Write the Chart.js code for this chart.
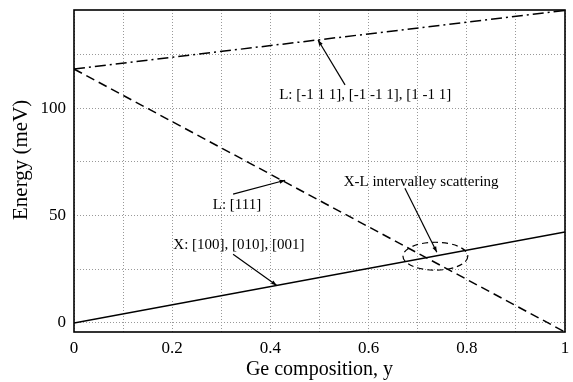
<!DOCTYPE html>
<html>
<head>
<meta charset="utf-8">
<script src="https://cdn.jsdelivr.net/npm/chart.js@4/dist/chart.umd.min.js"></script>
<style>
html,body{margin:0;padding:0;background:#fff;}
#wrap{width:573px;height:382px;}
</style>
</head>
<body>
<div id="wrap"><canvas id="c" width="573" height="382"></canvas></div>
<script>
// ---- data ----
const composition = [0, 1];
const xValley = [0, 42.4];
const l111Valley = [118.3, -4.2];
const lOtherValley = [118.3, 145.6];
const xTicks = [0, 0.1, 0.2, 0.3, 0.4, 0.5, 0.6, 0.7, 0.8, 0.9, 1];
const xTickLabels = ['0', '', '0.2', '', '0.4', '', '0.6', '', '0.8', '', '1'];
const yTicks = [0, 25, 50, 75, 100, 125];
const yTickLabels = ['0', '', '50', '', '100', ''];
const seriesNames = ['X: [100], [010], [001]', 'L: [111]', 'L: [-1 1 1], [-1 -1 1], [1 -1 1]'];
const yTitle = 'Energy (meV)';

// annotations in data units
const labels = [
  {text: 'L: [-1 1 1], [-1 -1 1], [1 -1 1]', x: 0.593, y: 106.2, from: [0.552, 110.9], to: [0.497, 131.8]},
  {text: 'L: [111]', x: 0.332, y: 54.9, from: [0.324, 60.0], to: [0.43, 66.5]},
  {text: 'X: [100], [010], [001]', x: 0.336, y: 36.2, from: [0.324, 32.0], to: [0.413, 17.5]},
  {text: 'X-L intervalley scattering', x: 0.707, y: 65.6, from: [0.674, 62.8], to: [0.739, 33.0]}
];
const ellipse = {x: 0.736, y: 31.1, rx: 0.066, ry: 6.5};

function pts(ys){ return composition.map((x,i)=>({x:x, y:ys[i]})); }

const serif = '"Liberation Serif", "DejaVu Serif", serif';

const annot = {
  id: 'annot',
  afterDatasetsDraw(chart){
    const {ctx, scales:{x, y}, chartArea:a} = chart;
    ctx.save();
    // ellipse
    ctx.strokeStyle = '#000';
    ctx.lineWidth = 1.2;
    ctx.setLineDash([6,4]);
    ctx.beginPath();
    ctx.ellipse(x.getPixelForValue(ellipse.x), y.getPixelForValue(ellipse.y),
      Math.abs(x.getPixelForValue(ellipse.x+ellipse.rx)-x.getPixelForValue(ellipse.x)),
      Math.abs(y.getPixelForValue(ellipse.y+ellipse.ry)-y.getPixelForValue(ellipse.y)), 0, 0, Math.PI*2);
    ctx.stroke();
    ctx.setLineDash([]);
    // labels + arrows
    ctx.font = '15px ' + serif;
    ctx.fillStyle = '#000';
    ctx.textAlign = 'center';
    ctx.textBaseline = 'middle';
    labels.forEach(l=>{
      ctx.fillText(l.text, x.getPixelForValue(l.x), y.getPixelForValue(l.y));
      const x1 = x.getPixelForValue(l.from[0]), y1 = y.getPixelForValue(l.from[1]);
      const x2 = x.getPixelForValue(l.to[0]), y2 = y.getPixelForValue(l.to[1]);
      ctx.lineWidth = 1.2;
      ctx.beginPath(); ctx.moveTo(x1,y1); ctx.lineTo(x2,y2); ctx.stroke();
      const ang = Math.atan2(y2-y1, x2-x1), L = 6, w = 0.35;
      ctx.beginPath();
      ctx.moveTo(x2,y2);
      ctx.lineTo(x2 - L*Math.cos(ang-w), y2 - L*Math.sin(ang-w));
      ctx.lineTo(x2 - L*Math.cos(ang+w), y2 - L*Math.sin(ang+w));
      ctx.closePath(); ctx.fill();
    });
    // frame
    ctx.lineWidth = 1.6;
    ctx.strokeStyle = '#000';
    ctx.strokeRect(a.left, a.top, a.right-a.left, a.bottom-a.top);
    // y axis title
    ctx.save();
    ctx.translate(a.left - 53, y.getPixelForValue(76));
    ctx.rotate(-Math.PI/2);
    ctx.font = '21px ' + serif;
    ctx.fillText(yTitle, 0, 0);
    ctx.restore();
    ctx.restore();
  }
};

new Chart(document.getElementById('c'), {
  type: 'scatter',
  data: {
    datasets: [
      {label: seriesNames[0], data: pts(xValley), showLine: true, borderColor: '#000', borderWidth: 1.5, pointRadius: 0},
      {label: seriesNames[1], data: pts(l111Valley), showLine: true, borderColor: '#000', borderWidth: 1.5, borderDash: [9,5], pointRadius: 0},
      {label: seriesNames[2], data: pts(lOtherValley), showLine: true, borderColor: '#000', borderWidth: 1.5, borderDash: [11,4,2,4], pointRadius: 0}
    ]
  },
  options: {
    responsive: false,
    animation: false,
    devicePixelRatio: 1,
    layout: {padding: {left: 0, right: 8, top: 10, bottom: 0}},
    plugins: {legend: {display: false}, tooltip: {enabled: false}},
    scales: {
      x: {
        type: 'linear', min: 0, max: 1,
        afterBuildTicks(s){ s.ticks = xTicks.map(v=>({value:v})); },
        afterFit(s){ s.height = 50; s.paddingRight = 0; s.paddingLeft = 0; },
        ticks: {
          autoSkip: false, maxRotation: 0,
          color: '#000', font: {family: serif, size: 17}, padding: 6,
          callback(v, i){ return xTickLabels[i]; }
        },
        grid: {color: '#999', lineWidth: 1, tickLength: 0, drawTicks: false},
        border: {display: false, dash: [1,2]},
        title: {display: true, text: 'Ge composition, y', color: '#000', font: {family: serif, size: 20}, padding: {top: 4, bottom: 0}}
      },
      y: {
        type: 'linear', min: -4.2, max: 145.8,
        afterBuildTicks(s){ s.ticks = yTicks.map(v=>({value:v})); },
        afterFit(s){ s.width = 74; s.paddingTop = 0; s.paddingBottom = 0; },
        ticks: {
          autoSkip: false,
          color: '#000', font: {family: serif, size: 17}, padding: 8,
          callback(v, i){ return yTickLabels[i]; }
        },
        grid: {color: '#999', lineWidth: 1, drawTicks: false},
        border: {display: false, dash: [1,2]},
        title: {display: false}
      }
    }
  },
  plugins: [annot]
});
</script>
</body>
</html>
